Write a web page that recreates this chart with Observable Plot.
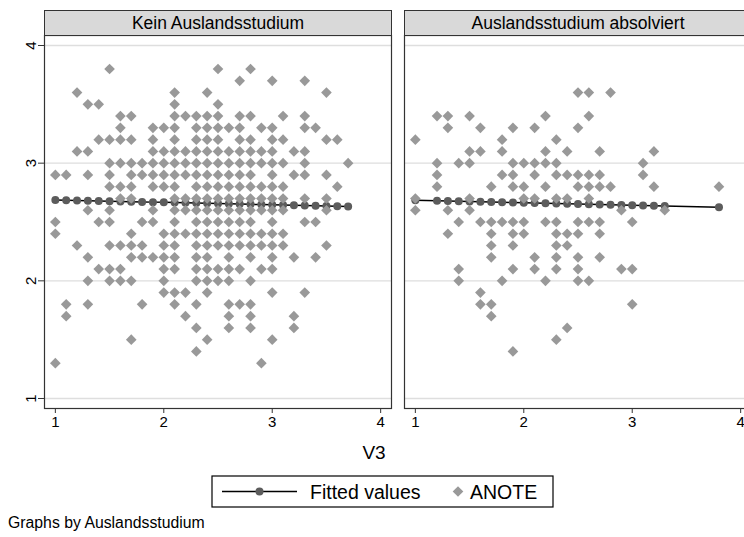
<!DOCTYPE html>
<html>
<head>
<meta charset="utf-8">
<script src="https://cdn.jsdelivr.net/npm/d3@7"></script>
<script src="https://cdn.jsdelivr.net/npm/@observablehq/plot@0.6"></script>
<style>
  html, body { margin: 0; padding: 0; background: #fff; }
  #root { position: relative; width: 744px; height: 537px; overflow: hidden; background: #fff;
          font-family: "Liberation Sans", Arial, Helvetica, sans-serif; color: #000; }
  .abs { position: absolute; }
  .strip { position: absolute; top: 10px; height: 24px; background: #d9d9d9; border: 1px solid #333;
           box-sizing: content-box; text-align: center; font-size: 17.5px; line-height: 24px; white-space: nowrap; }
</style>
</head>
<body>
<div id="root"></div>
<script>
// ---------- data ----------
// Panel titles
const panels = ["Kein Auslandsstudium", "Auslandsstudium absolviert"];
const xTicks = [1, 2, 3, 4];
const yTicks = [1, 2, 3, 4];

// Panel 1 (Kein Auslandsstudium): ANOTE values per row, V3 values in that row
const keinY = [3.8, 3.7, 3.6, 3.5, 3.4, 3.3, 3.2, 3.1, 3.0, 2.9, 2.8, 2.7, 2.6, 2.5, 2.4, 2.3, 2.2, 2.1, 2.0, 1.9, 1.8, 1.7, 1.6, 1.5, 1.4, 1.3];
const keinX = [
  [1.5, 2.5, 2.8],
  [2.7, 3.0, 3.3],
  [1.2, 2.1, 2.4, 3.5],
  [1.3, 1.4, 2.1, 2.5],
  [1.6, 1.7, 2.1, 2.2, 2.3, 2.4, 2.5, 2.7, 2.8, 3.1, 3.3],
  [1.6, 1.9, 2.0, 2.1, 2.3, 2.4, 2.5, 2.6, 2.7, 2.9, 3.0, 3.3, 3.4],
  [1.4, 1.5, 1.6, 1.7, 1.9, 2.1, 2.3, 2.4, 2.5, 2.7, 2.8, 3.0, 3.1, 3.5, 3.6],
  [1.2, 1.3, 1.9, 2.0, 2.1, 2.2, 2.3, 2.4, 2.5, 2.6, 2.7, 2.8, 2.9, 3.0, 3.2, 3.3],
  [1.5, 1.6, 1.7, 1.8, 1.9, 2.0, 2.1, 2.2, 2.3, 2.4, 2.5, 2.6, 2.7, 2.8, 2.9, 3.0, 3.1, 3.3, 3.7],
  [1.0, 1.1, 1.3, 1.5, 1.7, 1.8, 1.9, 2.0, 2.1, 2.2, 2.3, 2.4, 2.5, 2.6, 2.7, 2.8, 3.0, 3.2, 3.3, 3.5],
  [1.5, 1.6, 1.7, 1.9, 2.0, 2.1, 2.3, 2.4, 2.5, 2.6, 2.7, 2.8, 2.9, 3.0, 3.1, 3.6],
  [1.6, 1.7, 2.1, 2.2, 2.3, 2.4, 2.5, 2.6, 2.7, 2.8, 2.9, 3.0, 3.1, 3.3, 3.5],
  [1.3, 1.5, 1.9, 2.1, 2.2, 2.3, 2.4, 2.5, 2.6, 2.7, 2.8, 2.9, 3.0, 3.1, 3.5],
  [1.0, 1.4, 1.5, 1.8, 1.9, 2.1, 2.3, 2.4, 2.5, 2.6, 2.7, 2.8, 3.0, 3.3, 3.4],
  [1.0, 1.7, 2.0, 2.1, 2.2, 2.3, 2.4, 2.5, 2.6, 2.7, 2.8, 2.9, 3.0, 3.1],
  [1.2, 1.5, 1.6, 1.7, 1.8, 2.0, 2.1, 2.3, 2.4, 2.5, 2.6, 2.7, 2.8, 2.9, 3.0, 3.1, 3.5],
  [1.3, 1.7, 1.8, 1.9, 2.0, 2.1, 2.3, 2.4, 2.6, 2.8, 3.0, 3.2, 3.4],
  [1.4, 1.5, 1.6, 2.0, 2.1, 2.3, 2.4, 2.5, 2.6, 2.7, 2.9, 3.0],
  [1.3, 1.5, 1.6, 1.7, 2.0, 2.3, 2.4, 2.5, 2.6, 2.8],
  [2.0, 2.1, 2.2, 2.4, 3.0, 3.3],
  [1.1, 1.3, 1.8, 2.1, 2.3, 2.6, 2.7, 2.8],
  [1.1, 2.2, 2.6, 2.8, 3.2],
  [2.3, 2.6, 2.8, 3.2],
  [1.7, 2.4, 3.0],
  [2.3],
  [1.0, 2.9]
];

// Panel 2 (Auslandsstudium absolviert)
const absY = [3.6, 3.4, 3.3, 3.2, 3.1, 3.0, 2.9, 2.8, 2.7, 2.6, 2.5, 2.4, 2.3, 2.2, 2.1, 2.0, 1.9, 1.8, 1.7, 1.6, 1.5, 1.4];
const absX = [
  [2.5, 2.6, 2.8],
  [1.2, 1.3, 1.5, 2.2, 2.6],
  [1.3, 1.6, 1.9, 2.1, 2.5],
  [1.0, 1.8, 2.3],
  [1.5, 1.6, 1.8, 2.2, 2.4, 2.7, 3.2],
  [1.2, 1.4, 1.5, 1.9, 2.0, 2.1, 2.2, 2.3, 3.1],
  [1.2, 1.8, 1.9, 2.1, 2.3, 2.4, 2.5, 2.6, 2.7, 3.1],
  [1.2, 1.7, 1.9, 2.0, 2.2, 2.5, 2.6, 2.7, 2.8, 3.2, 3.8],
  [1.0, 1.5, 2.0, 2.1, 2.3, 2.4, 2.6],
  [1.0, 1.3, 1.5, 2.9, 3.3],
  [1.4, 1.6, 1.7, 1.8, 1.9, 2.0, 2.2, 2.3, 2.5, 2.6, 2.7, 3.0],
  [1.3, 1.7, 1.9, 2.0, 2.3, 2.4, 2.5, 2.7],
  [1.7, 1.9, 2.3, 2.4],
  [1.7, 2.1, 2.3, 2.5, 2.7],
  [1.4, 1.9, 2.1, 2.3, 2.5, 2.9, 3.0],
  [1.4, 1.8, 2.2, 2.5, 2.6],
  [1.6],
  [1.6, 1.7, 3.0],
  [1.7],
  [2.4],
  [2.3],
  [1.9]
];

// Linear fit (Fitted values) coefficients per panel
const fitIntercept = [2.709, 2.705];
const fitSlope = [-0.0211, -0.0210];

// Legend labels
const legendLabels = ["Fitted values", "ANOTE"];
const xTitle = "V3";
const note = "Graphs by Auslandsstudium";

// ---------- build ----------
function points(ys, xs) {
  const out = [];
  ys.forEach((y, i) => xs[i].forEach(x => out.push({x, y})));
  return out;
}
function fitted(pts, k) {
  const xs = Array.from(new Set(pts.map(d => d.x))).sort((a, b) => a - b);
  return xs.map(x => ({x, y: fitIntercept[k] + fitSlope[k] * x}));
}

const FONT = '"Liberation Sans", Arial, Helvetica, sans-serif';
const DIAMOND = "#999999";
const FITDOT = "#5c5c5c";
const root = document.getElementById("root");
const intFmt = d => String(d);

function panel(k, pts, showY) {
  const ml = showY ? 44 : 10;
  const fit = fitted(pts, k);
  const marks = [
    Plot.gridY(yTicks, {stroke: "#dedede", strokeOpacity: 1, strokeWidth: 1.3}),
    Plot.line(fit, {x: "x", y: "y", stroke: "#000", strokeWidth: 1.5}),
    Plot.dot(fit, {x: "x", y: "y", r: 4, fill: FITDOT, stroke: null}),
    Plot.dot(pts, {x: "x", y: "y", symbol: "diamond2", r: 4.8, fill: DIAMOND, stroke: null}),
    Plot.frame({stroke: "#333", strokeWidth: 1.2}),
    Plot.axisX(xTicks, {tickSize: 5, tickPadding: 3, fontSize: 15, label: null, stroke: "#333", tickFormat: intFmt})
  ];
  if (showY) {
    marks.push(Plot.axisY(yTicks, {tickSize: 6, tickPadding: 3, tickRotate: -90, fontSize: 15, label: null, stroke: "#333", tickFormat: intFmt}));
  }
  return Plot.plot({
    width: ml + 347 + 1,
    height: 437,
    marginLeft: ml,
    marginRight: 1,
    marginTop: 35,
    marginBottom: 29,
    x: {domain: [0.9, 4.1], axis: null},
    y: {domain: [0.915, 4.085], axis: null},
    style: {fontFamily: FONT, fontSize: "15px", color: "#000", background: "transparent", overflow: "visible"},
    marks
  });
}

const p1 = panel(0, points(keinY, keinX), true);
p1.style.position = "absolute"; p1.style.left = "0px"; p1.style.top = "0px";
const p2 = panel(1, points(absY, absX), false);
p2.style.position = "absolute"; p2.style.left = "394px"; p2.style.top = "0px";
root.appendChild(p1);
root.appendChild(p2);

// strips
function strip(text, left, width) {
  const d = document.createElement("div");
  d.className = "strip";
  d.style.left = left + "px";
  d.style.width = width + "px";
  d.textContent = text;
  root.appendChild(d);
}
strip(panels[0], 44, 346);
strip(panels[1], 404, 346);

// axis title
const t = document.createElement("div");
t.className = "abs";
t.style.cssText = "left:324px;width:100px;text-align:center;top:441px;font-size:19px;line-height:24px;";
t.textContent = xTitle;
root.appendChild(t);

// legend
const ns = "http://www.w3.org/2000/svg";
const lg = document.createElementNS(ns, "svg");
lg.setAttribute("width", 343); lg.setAttribute("height", 33);
lg.style.cssText = "position:absolute;left:211px;top:475px;font-family:" + FONT + ";";
lg.innerHTML =
  '<rect x="1" y="1" width="341" height="31" fill="#fff" stroke="#000" stroke-width="1.2"/>' +
  '<line x1="11" x2="86" y1="16.5" y2="16.5" stroke="#000" stroke-width="1.5"/>' +
  '<circle cx="48.5" cy="16.5" r="4" fill="' + FITDOT + '"/>' +
  '<path d="M247,11.2 L252.3,16.5 L247,21.8 L241.7,16.5 Z" fill="' + DIAMOND + '"/>';
const l1 = document.createElementNS(ns, "text");
l1.setAttribute("x", 99); l1.setAttribute("y", 23.5); l1.setAttribute("font-size", "19.5");
l1.textContent = legendLabels[0];
const l2 = document.createElementNS(ns, "text");
l2.setAttribute("x", 259); l2.setAttribute("y", 23.5); l2.setAttribute("font-size", "19.5");
l2.textContent = legendLabels[1];
lg.appendChild(l1); lg.appendChild(l2);
root.appendChild(lg);

// note
const n = document.createElement("div");
n.className = "abs";
n.style.cssText = "left:8px;top:513px;font-size:15.8px;line-height:20px;white-space:nowrap;";
n.textContent = note;
root.appendChild(n);
</script>
</body>
</html>
